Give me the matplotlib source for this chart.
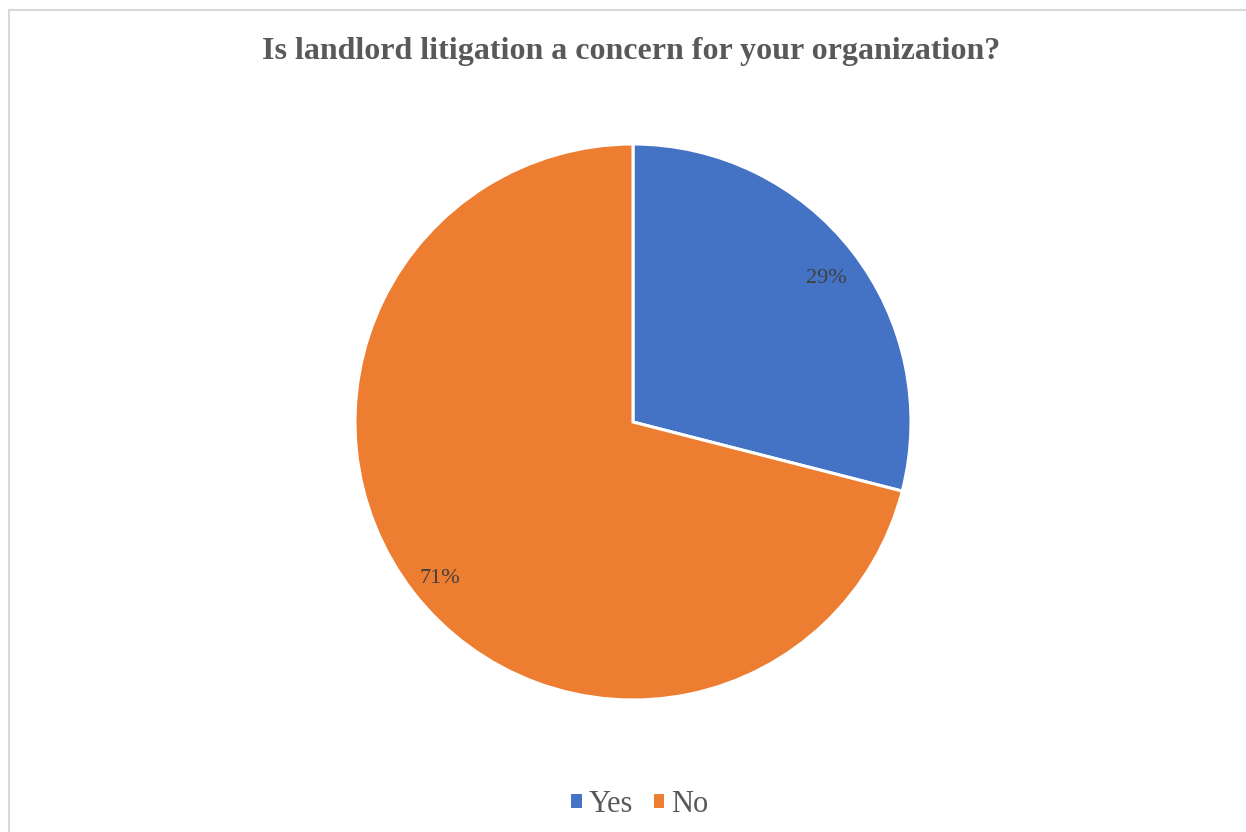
import matplotlib
matplotlib.use('Agg')
import matplotlib.pyplot as plt
from matplotlib.patches import Rectangle

labels = ["Yes", "No"]
shares = [29, 71]
colors = ["#4472C4", "#ED7D31"]

plt.rcParams['font.family'] = ['Liberation Serif', 'DejaVu Serif']

fig = plt.figure(figsize=(12.46, 8.32), dpi=100)

# light grey chart frame (only left and top edges fall inside the image)
fig.patches.append(Rectangle((8.5 / 1246, -0.1), 1.2, (832 - 9.5) / 832 + 0.1,
                             transform=fig.transFigure, fill=False,
                             edgecolor="#D9D9D9", linewidth=1.5))

# pie: center (633, 422) px, radius 278 px
r = 278
ax = fig.add_axes([(633 - r) / 1246, (832 - 422 - r) / 832, 2 * r / 1246, 2 * r / 832])
wedges, _, autotexts = ax.pie(shares, colors=colors, startangle=90, counterclock=False,
                              autopct='%1.0f%%', pctdistance=0.88,
                              wedgeprops=dict(edgecolor="white", linewidth=2.2),
                              textprops=dict(color="#404040", fontsize=16))
for t in autotexts:
    t.set_va('center_baseline')
    x, y = t.get_position()
    t.set_position((x, y - 4 / r))
ax.set_xlim(-1, 1)
ax.set_ylim(-1, 1)
ax.set_aspect('auto')

fig.text(631 / 1246, 1 - 52 / 832, "Is landlord litigation a concern for your organization?",
         ha='center', va='center', fontsize=23, fontweight='bold', color="#595959")

fig.legend(wedges, labels, loc='center', bbox_to_anchor=(639 / 1246, 1 - 804 / 832),
           ncol=2, frameon=False, fontsize=22, labelcolor="#595959",
           handlelength=0.45, handleheight=0.45, handletextpad=0.2, columnspacing=0.6)

fig.savefig("out.png", dpi=100)
